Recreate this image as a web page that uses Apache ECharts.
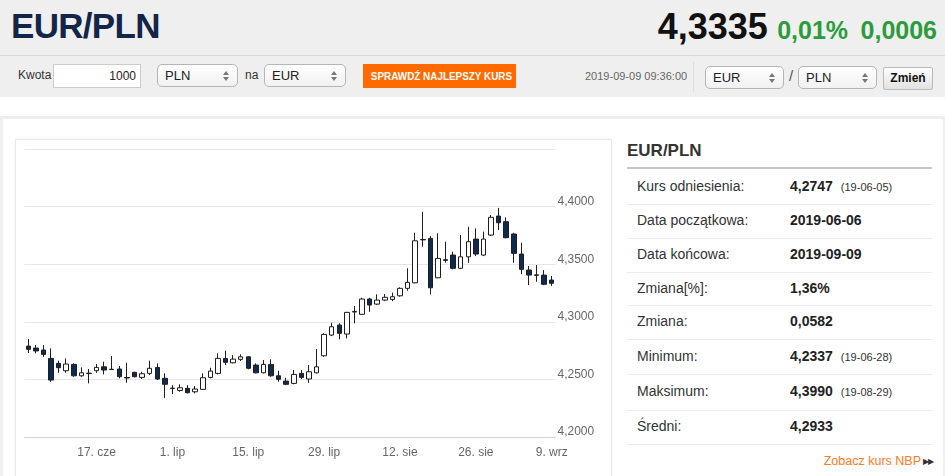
<!DOCTYPE html>
<html><head><meta charset="utf-8">
<script src="https://cdn.jsdelivr.net/npm/echarts@6/dist/echarts.min.js"></script>
<style>
*{box-sizing:border-box}
body{margin:0;width:945px;height:476px;overflow:hidden;background:#fff;font-family:'Liberation Sans',Arial,sans-serif;color:#333;position:relative}
.a{position:absolute;white-space:nowrap}
.sel{position:absolute;height:23px;border:1px solid #b5b5b5;border-radius:5px;background:linear-gradient(#fff,#f1f1f1);font-size:13px;line-height:21px;padding-left:7px;color:#222}
.sel .ar{position:absolute;right:7px;top:6px;width:7px;height:10px}
.sel .ar:before{content:'';position:absolute;left:0;top:0;border-left:3.5px solid transparent;border-right:3.5px solid transparent;border-bottom:4px solid #777}
.sel .ar:after{content:'';position:absolute;left:0;top:6px;border-left:3.5px solid transparent;border-right:3.5px solid transparent;border-top:4px solid #777}
.row{position:absolute;left:627px;width:305px;border-bottom:1px solid #ececec}
.lab{position:absolute;left:10px;font-size:14px;color:#333}
.val{position:absolute;left:163px;font-size:14px;font-weight:bold;color:#222}
.val small{font-size:11px;font-weight:normal;margin-left:8px;color:#333}
</style></head>
<body>
<div class="a" style="left:0;top:0;width:945px;height:97px;background:#efefef"></div>
<div class="a" style="left:0;top:55px;width:945px;height:1px;background:#d9d9d9"></div>
<div class="a" style="left:11px;top:6px;font-size:35px;font-weight:bold;color:#13264a;letter-spacing:-0.7px">EUR/PLN</div>
<div class="a" style="right:8px;top:6px;height:42px;">
  <span style="font-size:36px;font-weight:bold;color:#111;vertical-align:baseline">4,3335</span>
  <span style="font-size:25px;font-weight:bold;color:#2c9b3c;margin-left:5px">0,01%</span>
  <span style="font-size:25px;font-weight:bold;color:#2c9b3c;margin-left:8px">0,0006</span>
</div>
<div class="a" style="left:18px;top:68px;font-size:12px;color:#333">Kwota</div>
<div class="a" style="left:53px;top:64px;width:88px;height:24px;border:1px solid #ccc;background:#fff;font-size:12px;line-height:22px;text-align:right;padding-right:4px;color:#222">1000</div>
<div class="sel" style="left:157px;top:64px;width:81px">PLN<span class="ar"></span></div>
<div class="a" style="left:245px;top:68px;font-size:12px;color:#333">na</div>
<div class="sel" style="left:264px;top:64px;width:82px">EUR<span class="ar"></span></div>
<div class="a" style="left:363px;top:64px;width:153px;height:24px;background:#ff6a00;color:#fff;font-size:11px;font-weight:bold;line-height:24px;text-align:center"><span style="display:inline-block;transform:scaleX(0.9)">SPRAWDŹ NAJLEPSZY KURS</span></div>
<div class="a" style="left:585px;top:70px;font-size:11px;color:#666">2019-09-09 09:36:00</div>
<div class="a" style="left:693px;top:62px;width:1px;height:30px;background:#ddd"></div>
<div class="sel" style="left:705px;top:66px;width:79px">EUR<span class="ar"></span></div>
<div class="a" style="left:789px;top:67px;font-size:15px;color:#555">/</div>
<div class="sel" style="left:798px;top:66px;width:79px">PLN<span class="ar"></span></div>
<div class="a" style="left:883px;top:67px;width:50px;height:23px;border:1px solid #bbb;border-radius:2px;background:linear-gradient(#fdfdfd,#e2e2e2);font-size:12px;font-weight:bold;line-height:21px;text-align:center;color:#111">Zmień</div>

<div class="a" style="left:0;top:116px;width:945px;height:380px;border-left:3px solid #efefef;border-top:3px solid #efefef;border-right:2px solid #efefef"></div>
<div class="a" style="left:15px;top:139px;width:597px;height:360px;border:1px solid #e9e9e9;box-shadow:0 0 2px rgba(0,0,0,0.06)"></div>
<div id="chart" class="a" style="left:16px;top:140px;width:595px;height:336px"></div>

<div class="a" style="left:627px;top:141px;font-size:17px;font-weight:bold;color:#333">EUR/PLN</div>
<div class="a" style="left:627px;top:167px;width:305px;height:2px;background:#c8c8c8"></div>
<div id="tbl"></div>
<div class="a" style="right:24px;top:454px;font-size:12.5px;color:#ff7a26">Zobacz kurs NBP</div>
<div class="a" style="left:923px;top:457px;font-size:8px;color:#333;letter-spacing:-1px">▶▶</div>

<script>
// ---- data ----
const dates = ['2019-06-04','2019-06-05','2019-06-06','2019-06-07','2019-06-10','2019-06-11','2019-06-12','2019-06-13','2019-06-14',
'2019-06-17','2019-06-18','2019-06-19','2019-06-20','2019-06-21','2019-06-24','2019-06-25','2019-06-26','2019-06-27','2019-06-28',
'2019-07-01','2019-07-02','2019-07-03','2019-07-04','2019-07-05','2019-07-08','2019-07-09','2019-07-10','2019-07-11','2019-07-12',
'2019-07-15','2019-07-16','2019-07-17','2019-07-18','2019-07-19','2019-07-22','2019-07-23','2019-07-24','2019-07-25','2019-07-26',
'2019-07-29','2019-07-30','2019-07-31','2019-08-01','2019-08-02','2019-08-05','2019-08-06','2019-08-07','2019-08-08','2019-08-09',
'2019-08-12','2019-08-13','2019-08-14','2019-08-15','2019-08-16','2019-08-19','2019-08-20','2019-08-21','2019-08-22','2019-08-23',
'2019-08-26','2019-08-27','2019-08-28','2019-08-29','2019-08-30','2019-09-02','2019-09-03','2019-09-04','2019-09-05','2019-09-06','2019-09-09'];
const opens = [4.2789,4.2772,4.2755,4.2682,4.2639,4.2575,4.2630,4.2531,4.2554,
4.2575,4.2609,4.2585,4.2590,4.2516,4.2561,4.2517,4.2552,4.2604,4.2509,
4.2420,4.2404,4.2422,4.2392,4.2413,4.2517,4.2552,4.2682,4.2644,4.2674,
4.2696,4.2624,4.2557,4.2630,4.2531,4.2485,4.2465,4.2552,4.2503,4.2557,
4.2705,4.2885,4.2972,4.2894,4.3085,4.3065,4.3198,4.3154,4.3189,4.3195,
4.3226,4.3291,4.3339,4.3716,4.3725,4.3383,4.3540,4.3580,4.3465,4.3565,
4.3719,4.3580,4.3754,4.3919,4.3870,4.3763,4.3589,4.3450,4.3408,4.3406,4.3363];
const highs = [4.2850,4.2798,4.2798,4.2769,4.2662,4.2682,4.2639,4.2604,4.2590,
4.2633,4.2653,4.2702,4.2616,4.2644,4.2566,4.2566,4.2662,4.2639,4.2552,
4.2450,4.2457,4.2450,4.2442,4.2552,4.2601,4.2726,4.2749,4.2711,4.2717,
4.2702,4.2639,4.2668,4.2674,4.2575,4.2514,4.2581,4.2581,4.2624,4.2763,
4.2900,4.2992,4.2987,4.3087,4.3137,4.3209,4.3209,4.3239,4.3241,4.3253,
4.3300,4.3465,4.3774,4.3956,4.3745,4.3769,4.3696,4.3609,4.3754,4.3826,
4.3812,4.3783,4.3928,4.3990,4.3908,4.3774,4.3687,4.3485,4.3493,4.3450,4.3398];
const lows = [4.2729,4.2726,4.2696,4.2479,4.2557,4.2557,4.2523,4.2523,4.2465,
4.2557,4.2543,4.2585,4.2509,4.2470,4.2517,4.2503,4.2537,4.2494,4.2337,
4.2372,4.2392,4.2378,4.2378,4.2407,4.2509,4.2543,4.2624,4.2639,4.2659,
4.2587,4.2552,4.2552,4.2523,4.2479,4.2450,4.2457,4.2503,4.2470,4.2552,
4.2696,4.2876,4.2848,4.2856,4.2987,4.3059,4.3087,4.3146,4.3180,4.3180,
4.3218,4.3270,4.3334,4.3652,4.3239,4.3378,4.3513,4.3456,4.3458,4.3513,
4.3571,4.3571,4.3745,4.3797,4.3725,4.3513,4.3415,4.3319,4.3348,4.3319,4.3311];
const closes = [4.2761,4.2747,4.2717,4.2494,4.2601,4.2633,4.2531,4.2557,4.2550,
4.2604,4.2581,4.2588,4.2523,4.2512,4.2523,4.2549,4.2596,4.2503,4.2457,
4.2424,4.2427,4.2384,4.2416,4.2514,4.2572,4.2682,4.2648,4.2676,4.2696,
4.2596,4.2557,4.2630,4.2531,4.2500,4.2457,4.2543,4.2517,4.2566,4.2609,
4.2891,4.2957,4.2900,4.3082,4.3090,4.3198,4.3146,4.3189,4.3213,4.3218,
4.3291,4.3343,4.3704,4.3712,4.3296,4.3551,4.3534,4.3465,4.3565,4.3696,
4.3589,4.3719,4.3908,4.3861,4.3731,4.3595,4.3456,4.3406,4.3404,4.3326,4.3335];
const yTicks = [4.20,4.25,4.30,4.35,4.40,4.45];
const monthNames = ['sty','lut','mar','kwi','maj','cze','lip','sie','wrz','paź','lis','gru'];
const tableLabels = ['Kurs odniesienia:','Data początkowa:','Data końcowa:','Zmiana[%]:','Zmiana:','Minimum:','Maksimum:','Średni:'];
const tableValues = ['4,2747','2019-06-06','2019-09-09','1,36%','0,0582','4,2337','4,3990','4,2933'];
const tableNotes = ['(19-06-05)','','','','','(19-06-28)','(19-08-29)',''];

// ---- table ----
const rowTops = [169,204,238,272,305,339,374,410];
const rowBottoms = [204,238,272,305,339,374,410,444];
let html = '';
tableLabels.forEach((l,i)=>{
  const h = rowBottoms[i]-rowTops[i];
  const ty = Math.round(h/2 - 9);
  html += `<div class="row" style="top:${rowTops[i]}px;height:${h+1}px">
  <span class="lab" style="top:${ty}px">${l}</span>
  <span class="val" style="top:${ty}px">${tableValues[i]}${tableNotes[i]?'<small>'+tableNotes[i]+'</small>':''}</span></div>`;
});
document.getElementById('tbl').innerHTML = html;

// ---- chart ----
const ohlc = dates.map((d,i)=>[opens[i],closes[i],lows[i],highs[i]]);
const showIdx = (i)=> i % 10 === 9;
const chart = echarts.init(document.getElementById('chart'));
chart.setOption({
  animation:false,
  grid:{left:8.5,right:55.5,top:9.2,bottom:39.1},
  xAxis:{type:'category',data:dates,boundaryGap:true,
    axisLine:{lineStyle:{color:'#ccd6eb'}},
    axisTick:{alignWithLabel:true,interval:showIdx,length:8,lineStyle:{color:'#ccd6eb'}},
    axisLabel:{interval:showIdx,color:'#666',fontSize:12,margin:10,fontFamily:'Liberation Sans, Arial',
      formatter:(v)=>{const p=v.split('-');return parseInt(p[2],10)+'. '+monthNames[parseInt(p[1],10)-1];}},
    splitLine:{show:false}},
  yAxis:{type:'value',position:'right',min:yTicks[0],max:yTicks[yTicks.length-1],interval:0.05,
    axisLine:{show:false},axisTick:{show:false},
    splitLine:{lineStyle:{color:'#e6e6e6',width:1}},
    axisLabel:{color:'#666',fontSize:12,margin:2,verticalAlign:'bottom',padding:[0,0,-1,0],fontFamily:'Liberation Sans, Arial',
      formatter:(v)=> Math.abs(v-yTicks[yTicks.length-1])<1e-6 ? '' : v.toFixed(4).replace('.',',')}},
  series:[{type:'candlestick',data:ohlc,barWidth:5,
    itemStyle:{color:'#ffffff',color0:'#0e2a4e',borderColor:'#1e1e1e',borderColor0:'#1e1e1e',borderWidth:1}}]
});
</script>
</body></html>
